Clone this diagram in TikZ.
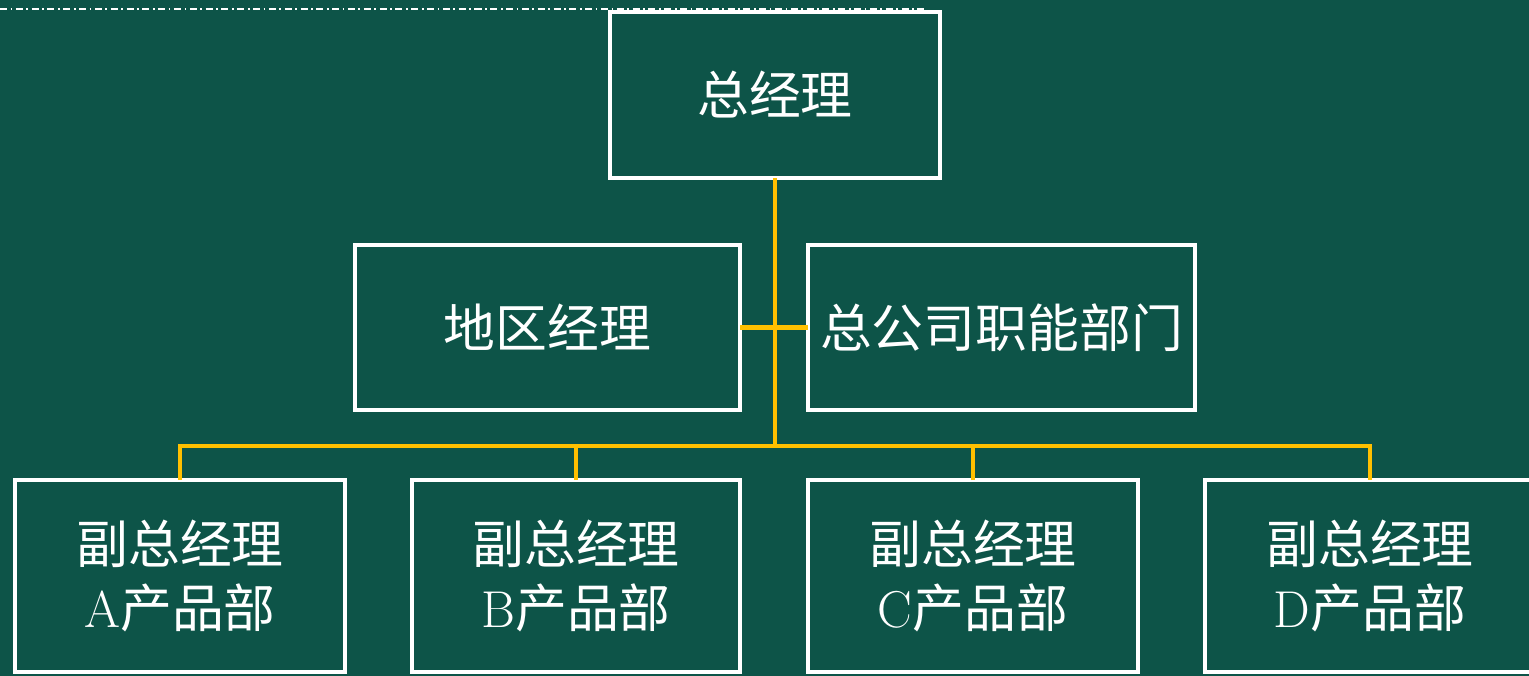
\documentclass[tikz,border=0pt]{standalone}
\usepackage{fontspec}
\newfontfamily\cjk{Noto Sans CJK SC}
\definecolor{board}{RGB}{13,84,72}
\definecolor{gold}{RGB}{255,192,0}
\begin{document}
\begin{tikzpicture}[
  box/.style={rectangle, draw=white, line width=0.08cm, inner sep=0pt, outer sep=0pt,
    text=white, align=center, font=\fontsize{29.5}{36}\selectfont\cjk},
  link/.style={draw=gold, line width=0.09cm}]
\fill [board] (0,0) rectangle (30.58,-13.52);
\useasboundingbox (0,0) rectangle (30.58,-13.52);
\draw [white, line width=0.6pt, dash pattern=on 4pt off 2pt on 1pt off 2pt] (0,-0.18) -- (18.5,-0.18);

\node [box, minimum width=6.6cm, minimum height=3.32cm] (gm) at (15.5,-1.9) {总经理};
\node [box, minimum width=7.7cm, minimum height=3.3cm] (area) at (10.95,-6.55) {地区经理};
\node [box, minimum width=7.74cm, minimum height=3.3cm] (dept) at (20.03,-6.55) {总公司职能部门};

\node [box, minimum width=6.6cm, minimum height=3.84cm] (pa) at (3.6,-11.52) {副总经理\\{\rmfamily A}产品部};
\node [box, minimum width=6.56cm, minimum height=3.84cm] (pb) at (11.52,-11.52) {副总经理\\{\rmfamily B}产品部};
\node [box, minimum width=6.6cm, minimum height=3.84cm] (pc) at (19.46,-11.52) {副总经理\\{\rmfamily C}产品部};
\node [box, minimum width=6.6cm, minimum height=3.84cm] (pd) at (27.4,-11.52) {副总经理\\{\rmfamily D}产品部};

\coordinate (bus) at (15.5,-8.92);

\draw [link] (gm.south) -- (bus);
\draw [link] (area.east) -- (dept.west);
\draw [link] (pa.north) |- (bus) -| (pd.north);
\draw [link] (pb.north) -- (pb.north |- bus);
\draw [link] (pc.north) -- (pc.north |- bus);
\end{tikzpicture}
\end{document}
